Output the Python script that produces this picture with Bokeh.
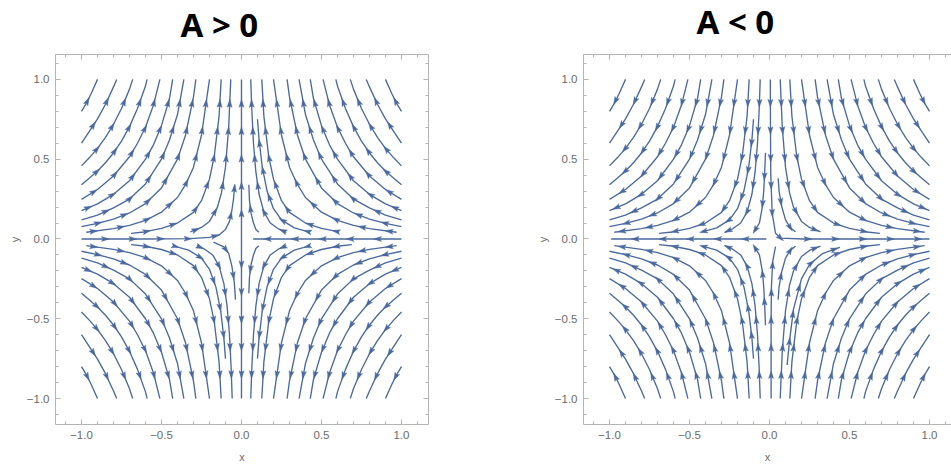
import math
from bokeh.core.properties import value
from bokeh.embed import file_html
from bokeh.layouts import column, row
from bokeh.models import FixedTicker, LinearAxis
from bokeh.plotting import figure
from bokeh.resources import INLINE

# ---- data: |x|, |y| along each stream line, top end first ----
TICKS = [-1.0, -0.5, 0.0, 0.5, 1.0]
TICK_LABELS = ["\u22121.0", "\u22120.5", "0.0", "0.5", "1.0"]
MINOR_TICKS = [-1.1, -0.9, -0.8, -0.7, -0.6, -0.4, -0.3, -0.2, -0.1,
               0.1, 0.2, 0.3, 0.4, 0.6, 0.7, 0.8, 0.9, 1.1]
TITLES = ["A > 0", "A < 0"]

F81 = [(.90, 1.0), (.94, .91), (.97, .85), (1.0, .80)]
F61 = [(.78, 1.0), (.80, .953), (.85, .844), (.90, .753), (.95, .676), (1.0, .60)]
F46 = [(.68, 1.0), (.70, .939), (.75, .818), (.80, .719), (.85, .637), (.90, .568), (.95, .51), (1.0, .458)]
F34 = [(.59, 1.0), (.60, .958), (.65, .817), (.70, .704), (.75, .613), (.80, .539), (.85, .478), (.90, .426), (.95, .382), (1.0, .34)]
F26 = [(.51, 1.0), (.55, .84), (.60, .70), (.65, .60), (.70, .515), (.80, .395), (.90, .31), (1.0, .248)]
F18 = [(.43, 1.0), (.45, .88), (.50, .71), (.55, .59), (.60, .50), (.70, .365), (.80, .28), (.90, .22), (1.0, .178)]
F12 = [(.36, 1.0), (.40, .78), (.45, .62), (.50, .50), (.60, .345), (.70, .25), (.80, .195), (.90, .15), (1.0, .12)]
F08 = [(.285, 1.0), (.30, .89), (.35, .65), (.40, .50), (.50, .32), (.60, .222), (.70, .163), (.80, .125), (.90, .098), (1.0, .077)]
F04 = [(.20, 1.0), (.25, .65), (.30, .45), (.35, .34), (.40, .26), (.50, .168), (.60, .117), (.70, .085), (.80, .065), (.97, .042)]
F016 = [(.127, 1.0), (.14, .77), (.17, .52), (.20, .375), (.25, .24), (.30, .167), (.40, .10), (.50, .066), (.61, .044), (.69, .035)]
F0045 = [(.067, 1.0), (.08, .70), (.10, .45), (.125, .29), (.15, .20), (.20, .11), (.25, .072), (.319, .044)]
F0033 = [(.058, 1.0), (.065, .80), (.075, .60), (.09, .42), (.11, .28), (.14, .17), (.18, .10), (.23, .064), (.28, .042)]
STUB008 = [(.10, .75), (.11, .62), (.13, .45), (.16, .30), (.20, .19), (.25, .12), (.33, .07), (.42, .045)]
STUB010 = [(.11, .79), (.125, .64), (.15, .44), (.20, .25), (.25, .16), (.33, .092), (.44, .052)]
STUB0012 = [(.054, .38), (.06, .30), (.075, .21), (.10, .12), (.13, .07), (.1625, .045)]
STUB0006 = [(.046, .34), (.05, .24), (.06, .16), (.075, .10), (.09, .06), (.108, .042)]
STUB0004 = [(.025, .54), (.03, .42), (.036, .30), (.045, .20), (.063, .10), (.092, .052)]
HOOK_LOW = [(.0375, .38), (.045, .27), (.06, .17), (.08, .09), (.11, .05), (.175, .02)]
AXIS_IN_LEFT = [(1.0, 0), (.60, 0), (.32, .002), (.20, .01), (.14, .025), (.10, .06), (.075, .11), (.06, .18), (.05, .25), (.042, .34)]
AXIS_RIGHT = [(1.0, 0), (.60, 0), (.30, 0), (.073, 0)]
AXIS_OUT = [(.99, 0), (.60, 0), (.30, 0), (.02, 0)]
VERTICAL = [(0, 1.0), (0, .60), (0, .30), (0, 0)]
CENTRE_UP = [(.005, 1.0), (.006, .70), (.008, .40), (.017, .16), (.0375, .036), (.07, .005), (.21, 0), (.60, 0), (1.0, 0)]
CENTRE_LOW = [(.01, 1.0), (.01, .50), (.012, .30), (.02, .14), (.0375, .048)]

OUTER = [F81, F61, F46, F34, F26, F18, F12, F08, F04]

# (curve, sign x, sign y, flow runs against the listed order)
LEFT_PATHS = (
    [(c, sx, sy, True) for c in OUTER for sx in (-1, 1) for sy in (-1, 1)]
    + [(F016, -1, 1, True), (F016[:-1], 1, 1, True), (F016, -1, -1, True), (F016, 1, -1, True)]
    + [(F0045, -1, 1, True), (F0033, 1, 1, True), (F0033, -1, -1, True), (F0033, 1, -1, True)]
    + [(STUB008, 1, 1, True), (STUB008, -1, -1, True), (STUB008, 1, -1, True)]
    + [(STUB0006, 1, 1, True), (STUB0006, 1, -1, True), (HOOK_LOW, -1, -1, True)]
    + [(AXIS_IN_LEFT, -1, 1, False), (AXIS_RIGHT, 1, 1, False)]
    + [(VERTICAL, 1, 1, True), (VERTICAL, 1, -1, True)]
)
RIGHT_PATHS = (
    [(c, sx, sy, False) for c in OUTER for sx in (-1, 1) for sy in (-1, 1)]
    + [(F016, sx, sy, False) for sx in (-1, 1) for sy in (-1, 1)]
    + [(F0033, -1, 1, False), (F0045, 1, 1, False), (F0033, -1, -1, False), (F0045, 1, -1, False)]
    + [(STUB008, -1, 1, False), (STUB008, -1, -1, False), (STUB010, 1, -1, False)]
    + [(STUB0004, -1, 1, False), (STUB0004, -1, -1, False), (STUB0012, 1, 1, False), (STUB0012, 1, -1, False)]
    + [(CENTRE_UP, 1, 1, False), (CENTRE_LOW, 1, -1, False), (AXIS_OUT, -1, 1, True)]
)

LINE = "#4a699e"
FRAME = "#b4b4b4"
TEXT = "#6b6b6b"
FIRST, STEP = 0.15, 0.172     # arrow spacing along a line, in data units
HEAD_L, HEAD_W = 0.05, 0.016  # arrow head length and half width, in data units


def heads(pts, backwards):
    """Arrow head polygons walked along one polyline."""
    xs_out, ys_out = [], []
    target = FIRST
    walked = 0.0
    for (x0, y0), (x1, y1) in zip(pts[:-1], pts[1:]):
        seg = math.hypot(x1 - x0, y1 - y0)
        if seg == 0:
            continue
        ux, uy = (x1 - x0) / seg, (y1 - y0) / seg
        while target <= walked + seg:
            t = target - walked
            cx, cy = x0 + ux * t, y0 + uy * t
            dx, dy = (-ux, -uy) if backwards else (ux, uy)
            tip = (cx + dx * HEAD_L / 2, cy + dy * HEAD_L / 2)
            bx, by = cx - dx * HEAD_L / 2, cy - dy * HEAD_L / 2
            nx, ny = cx - dx * HEAD_L * 0.3, cy - dy * HEAD_L * 0.3
            xs_out.append([tip[0], bx - dy * HEAD_W, nx, bx + dy * HEAD_W])
            ys_out.append([tip[1], by + dx * HEAD_W, ny, by - dx * HEAD_W])
            target += STEP
        walked += seg
    return xs_out, ys_out


def panel(paths, width, x_end, border_left, border_right, right_axis):
    p = figure(width=width, height=425, output_backend="svg", toolbar_location=None,
               x_range=(-1.1625, x_end), y_range=(-1.1625, 1.156),
               min_border_left=border_left, min_border_right=border_right,
               min_border_top=14, min_border_bottom=40,
               x_axis_location=None, y_axis_location=None,
               background_fill_color="white", border_fill_color="white")
    p.grid.visible = False
    p.outline_line_color = None

    def axis(place, labelled, name=None, label_standoff=0):
        ax = LinearAxis(ticker=FixedTicker(ticks=TICKS, minor_ticks=MINOR_TICKS))
        ax.axis_line_color = FRAME
        ax.major_tick_line_color = FRAME
        ax.minor_tick_line_color = FRAME
        ax.major_tick_in, ax.major_tick_out = 5, 0
        ax.minor_tick_in, ax.minor_tick_out = 3, 0
        if labelled:
            ax.major_label_overrides = dict(zip(TICKS, TICK_LABELS))
            ax.major_label_text_font = "Liberation Sans"
            ax.major_label_text_font_size = "11.5px"
            ax.major_label_text_color = TEXT
            ax.major_label_standoff = 6
            ax.axis_label = name
            ax.axis_label_text_font = "Liberation Sans"
            ax.axis_label_text_font_style = "normal"
            ax.axis_label_text_font_size = "11px"
            ax.axis_label_text_color = TEXT
            ax.axis_label_standoff = label_standoff
        else:
            ax.major_label_overrides = {t: "" for t in TICKS}
            ax.major_label_standoff = 0
        p.add_layout(ax, place)

    axis("below", True, "x", 9)
    axis("left", True, "y", 3)
    axis("above", False)
    if right_axis:
        axis("right", False)

    line_x, line_y, head_x, head_y = [], [], [], []
    for curve, sx, sy, backwards in paths:
        pts = [(x * sx, y * sy) for x, y in curve]
        line_x.append([q[0] for q in pts])
        line_y.append([q[1] for q in pts])
        hx, hy = heads(pts, backwards)
        head_x += hx
        head_y += hy
    p.multi_line(line_x, line_y, line_color=LINE, line_width=1.35, line_join="round")
    p.patches(head_x, head_y, fill_color=LINE, line_color=LINE, line_width=0.4)
    return p


# strip above the panels that holds the two headings
strip = figure(width=951, height=40, output_backend="svg", toolbar_location=None,
               x_range=(0, 951), y_range=(40, 0), x_axis_location=None, y_axis_location=None,
               min_border=0, background_fill_color="white", border_fill_color="white")
strip.grid.visible = False
strip.outline_line_color = None
strip.text(x=[180, 696], y=[24, 21], text=TITLES, text_font=value("Noto Sans"),
           text_font_style="bold", text_font_size="33px", text_color="#000000",
           text_align="left", text_baseline="middle")

left = panel(LEFT_PATHS, 500, 1.169, 55, 72, True)
right = panel(RIGHT_PATHS, 451, 1.1375, 83, 0, False)
page = column(strip, row(left, right, spacing=0), spacing=0)
open("out.html", "w").write(file_html(page, INLINE))
